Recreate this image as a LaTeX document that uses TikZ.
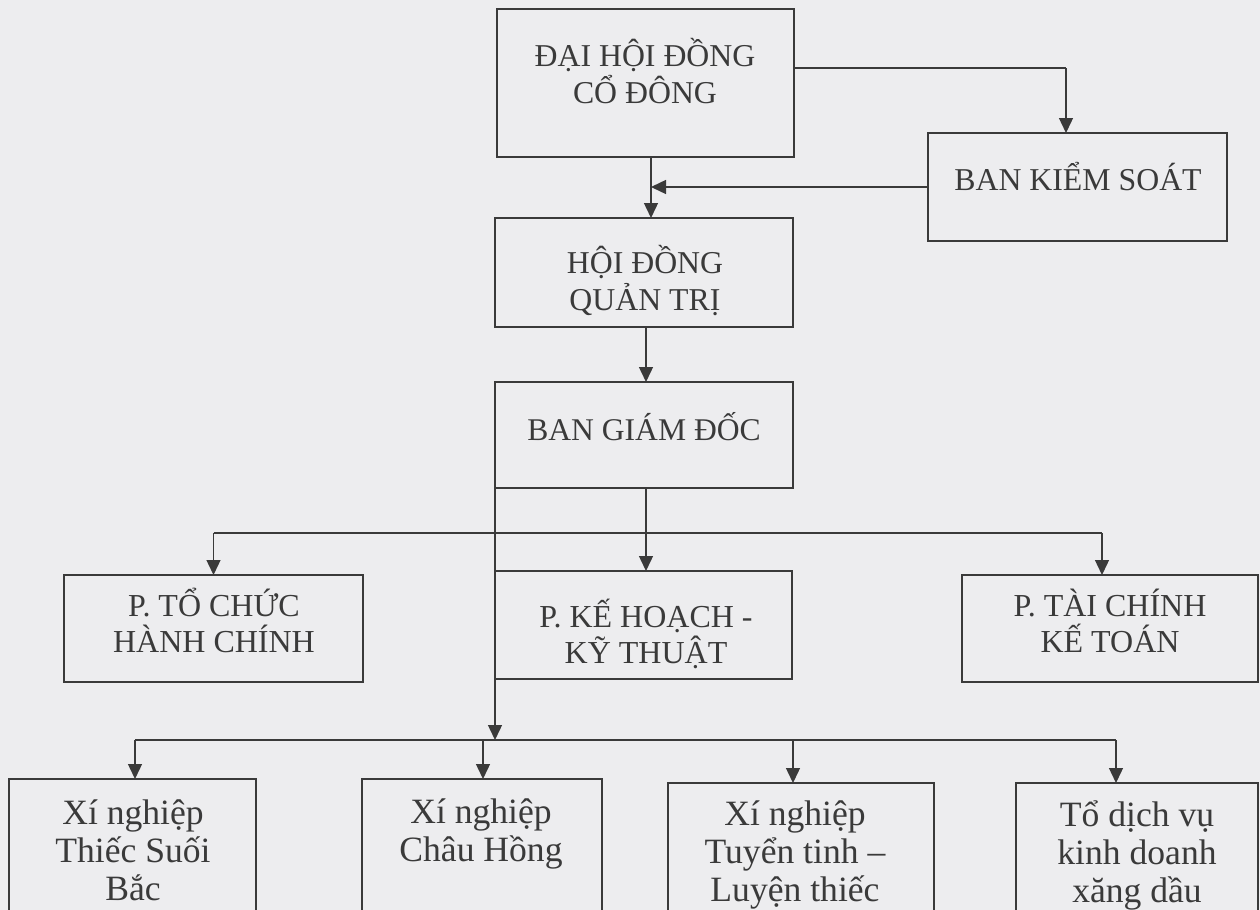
\documentclass[tikz,border=0pt]{standalone}
\usepackage{fontspec}
\setmainfont{Liberation Serif}
\usetikzlibrary{arrows.meta}
\definecolor{bg}{RGB}{237,237,239}
\definecolor{ink}{RGB}{58,58,58}
\begin{document}
\begin{tikzpicture}[x=0.5pt,y=-0.5pt,
  box/.style={draw=ink, line width=0.7pt, inner sep=0pt, outer sep=0pt, rectangle},
  lbl/.style={text=ink, align=center, inner sep=0pt},
  fa/.style={font=\fontsize{15.9pt}{18.5pt}\selectfont},
  fb/.style={font=\fontsize{15.8pt}{18pt}\selectfont},
  fc/.style={font=\fontsize{16pt}{18pt}\selectfont},
  fd/.style={font=\fontsize{17.8pt}{19pt}\selectfont},
  conn/.style={draw=ink, line width=0.7pt},
  arr/.style={conn, -{Triangle[length=7.5pt,width=7pt]}}]
\fill[bg] (0,0) rectangle (1260,910);
\useasboundingbox (0,0) rectangle (1260,910);

% boxes
\node[box, minimum width=148.5pt, minimum height=74pt]   (dh)  at (645.5,83) {};
\node[box, minimum width=149.5pt, minimum height=54pt]   (bks) at (1077.5,187) {};
\node[box, minimum width=149pt,   minimum height=54.5pt] (hd)  at (644,272.5) {};
\node[box, minimum width=149pt,   minimum height=53pt]   (bgd) at (644,435) {};
\node[box, minimum width=149.5pt, minimum height=53.5pt] (ptc) at (213.5,628.5) {};
\node[box, minimum width=148.5pt, minimum height=54pt]   (pkh) at (643.5,625) {};
\node[box, minimum width=148pt,   minimum height=53.5pt] (ptk) at (1110,628.5) {};
\node[box, minimum width=123.5pt, minimum height=75.5pt] (x1)  at (132.5,854.5) {};
\node[box, minimum width=120pt,   minimum height=75.5pt] (x2)  at (482,854.5) {};
\node[box, minimum width=133pt,   minimum height=73.5pt] (x3)  at (801,856.5) {};
\node[box, minimum width=121pt,   minimum height=73.5pt] (x4)  at (1137,856.5) {};

% texts
\node[lbl, fa] (tdh)  at (645,71)   {ĐẠI HỘI ĐỒNG\\CỔ ĐÔNG};
\node[lbl, fa] (tbks) at (1078,177) {BAN KIỂM SOÁT};
\node[lbl, fa] (thd)  at (645,281)  {HỘI ĐỒNG\\QUẢN TRỊ};
\node[lbl, fb] (tbgd) at (644,427)  {BAN GIÁM ĐỐC};
\node[lbl, fc] (tptc) at (214,620)  {P. TỔ CHỨC\\HÀNH CHÍNH};
\node[lbl, fc] (tpkh) at (646,634)  {P. KẾ HOẠCH -\\KỸ THUẬT};
\node[lbl, fc] (tptk) at (1110,621) {P. TÀI CHÍNH\\KẾ TOÁN};
\node[lbl, fd] (tx1)  at (133,850)  {Xí nghiệp\\Thiếc Suối\\Bắc};
\node[lbl, fd] (tx2)  at (481,834)  {Xí nghiệp\\Châu Hồng};
\node[lbl, fd] (tx3)  at (795,855)  {Xí nghiệp\\Tuyển tinh –\\Luyện thiếc};
\node[lbl, fd] (tx4)  at (1137,855) {Tổ dịch vụ\\kinh doanh\\xăng dầu};

% rail coordinates
\coordinate (r1) at (1066,68);
\coordinate (v1) at (651,0);
\coordinate (v2) at (646,0);
\coordinate (h1) at (0,533);
\coordinate (a3) at (1102,533);
\coordinate (v3) at (495,740);
\coordinate (b1) at (135,740);
\coordinate (b2) at (483,740);
\coordinate (b3) at (793,740);
\coordinate (b4) at (1116,740);

% connectors
\draw[conn] (dh.east |- r1) -- (r1);
\draw[arr] (r1) -- (bks.north -| r1);
\draw[arr] (dh.south -| v1) -- (hd.north -| v1);
\draw[arr] (bks.west) -- (v1 |- bks.west);
\draw[arr] (hd.south -| v2) -- (bgd.north -| v2);
\draw[conn] (bgd.south -| v2) -- (v2 |- h1);
\draw[conn] (ptc.north |- h1) -- (a3);
\draw[arr] (ptc.north |- h1) -- (ptc.north);
\draw[arr] (v2 |- h1) -- (pkh.north -| v2);
\draw[arr] (a3) -- (ptk.north -| a3);
\draw[arr] (bgd.south west) -- (v3);
\draw[conn] (b1) -- (b4);
\draw[arr] (b1) -- (x1.north -| b1);
\draw[arr] (b2) -- (x2.north -| b2);
\draw[arr] (b3) -- (x3.north -| b3);
\draw[arr] (b4) -- (x4.north -| b4);
\end{tikzpicture}
\end{document}
